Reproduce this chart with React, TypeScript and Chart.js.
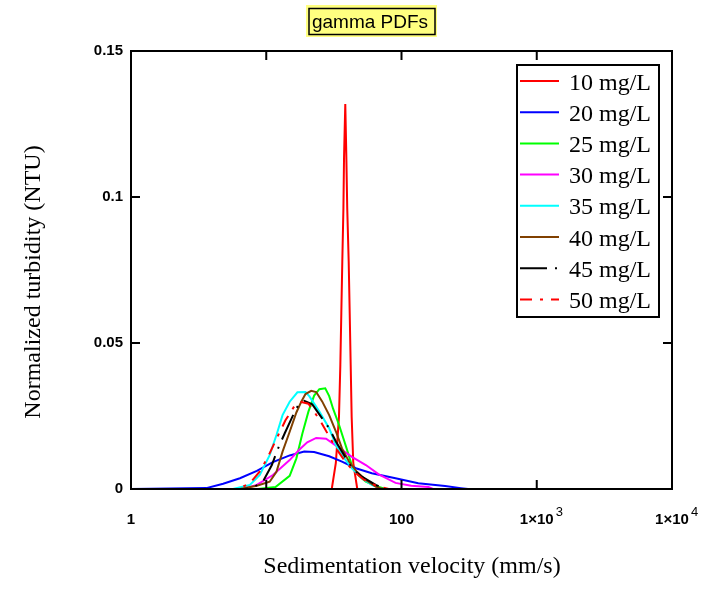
import { useEffect, useRef } from "react";
import { Chart, registerables } from "chart.js";

Chart.register(...registerables);

const seriesLabels = ["10 mg/L", "20 mg/L", "25 mg/L", "30 mg/L", "35 mg/L", "40 mg/L", "45 mg/L", "50 mg/L"];
const seriesColors = ["#ff0000", "#0000ff", "#00ff00", "#ff00ff", "#00ffff", "#804000", "#000000", "#ff0000"];
const seriesDashes: number[][] = [[], [], [], [], [], [], [27, 8, 2, 8], [12, 8, 3, 8]];

const xTickValues = [1, 10, 100, 1000, 10000];
const xTickLabels = ["1", "10", "100", "1×10", "1×10"];
const xTickSups = ["", "", "", "3", "4"];
const yTickValues = [0, 0.05, 0.1, 0.15];
const yTickLabels = ["0", "0.05", "0.1", "0.15"];

const v10 = [1, 30.5, 32.7, 34.5, 35.3, 35.9, 36.5, 37.2, 37.6, 38.4, 39.1, 39.7, 40.7, 41.4, 42.1, 42.8, 44.0, 47.1, 10000];
const y10 = [0, 0, 0.0089, 0.0248, 0.0425, 0.0603, 0.0778, 0.0961, 0.1138, 0.1318, 0.1138, 0.0961, 0.0778, 0.0603, 0.0425, 0.0248, 0.0089, 0, 0];

const v20 = [1, 3.6, 4.8, 6.39, 8.52, 11.2, 14.9, 19.1, 22.6, 29.2, 36.3, 46.0, 60.3, 90.3, 133, 210, 275, 310, 10000];
const y20 = [0, 0.0003, 0.0018, 0.0037, 0.0062, 0.0092, 0.0115, 0.0128, 0.0127, 0.0112, 0.0094, 0.0071, 0.0054, 0.0037, 0.002, 0.001, 0.0003, 0, 0];

const v25 = [1, 8.67, 11.7, 14.9, 16.7, 18.5, 20.5, 22.6, 24.7, 27.3, 29.2, 31.2, 34.5, 38.9, 43.0, 48.4, 54.5, 64.5, 76.4, 10000];
const y25 = [0, 0, 0.0007, 0.0045, 0.0105, 0.019, 0.0265, 0.032, 0.0342, 0.0345, 0.0318, 0.0275, 0.022, 0.0145, 0.008, 0.0045, 0.0025, 0.001, 0, 0];

const v30 = [1, 6.73, 8.52, 11.2, 14.9, 17.6, 20.1, 23.4, 27.7, 32.8, 43.0, 54.5, 67.9, 90.3, 118, 158, 171, 10000];
const y30 = [0, 0, 0.0014, 0.0048, 0.0099, 0.0135, 0.016, 0.0175, 0.0172, 0.0148, 0.011, 0.0082, 0.005, 0.0021, 0.0011, 0.0007, 0, 0];

const v35 = [1, 5.68, 7.57, 8.96, 10.6, 11.9, 13.2, 14.9, 17.0, 19.5, 20.8, 24.7, 29.2, 32.8, 36.3, 43.0, 50.9, 60.3, 71.3, 10000];
const y35 = [0, 0, 0.0014, 0.0048, 0.0116, 0.0185, 0.0253, 0.0299, 0.0331, 0.0332, 0.0318, 0.0265, 0.0208, 0.015, 0.0116, 0.0071, 0.0037, 0.0014, 0, 0];

const v40 = [1, 6.39, 8.52, 10.6, 11.9, 13.2, 14.9, 16.7, 18.2, 19.5, 21.5, 23.4, 25.9, 29.2, 32.8, 36.3, 40.9, 46.8, 54.5, 64.5, 72.6, 10000];
const y40 = [0, 0, 0.0011, 0.0025, 0.0059, 0.0128, 0.0196, 0.0262, 0.03, 0.0325, 0.0336, 0.0332, 0.03, 0.0253, 0.0196, 0.0139, 0.0094, 0.0059, 0.0031, 0.0008, 0, 0];

const v45 = [1, 6.95, 7.96, 9.43, 11.0, 12.1, 13.7, 15.4, 16.7, 17.6, 19.1, 21.9, 25.9, 29.2, 32.8, 38.9, 43.0, 50.9, 64.5, 76.4, 10000];
const y45 = [0, 0, 0.0005, 0.0025, 0.0082, 0.0134, 0.0191, 0.0242, 0.0276, 0.0293, 0.0302, 0.029, 0.0242, 0.0208, 0.0162, 0.0105, 0.0071, 0.0042, 0.0014, 0, 0];

const v50 = [1, 6.18, 7.57, 8.96, 10.3, 11.9, 13.9, 16.2, 18.2, 20.5, 22.6, 25.5, 29.2, 33.4, 38.9, 44.5, 52.7, 64.5, 80.4, 10000];
const y50 = [0, 0, 0.002, 0.006, 0.011, 0.0172, 0.0236, 0.0285, 0.0298, 0.0292, 0.0265, 0.0228, 0.018, 0.0134, 0.009, 0.006, 0.0032, 0.0012, 0, 0];

const seriesX = [v10, v20, v25, v30, v35, v40, v45, v50];
const seriesY = [y10, y20, y25, y30, y35, y40, y45, y50];

const titleText = "gamma PDFs";
const xTitle = "Sedimentation velocity (mm/s)";
const yTitle = "Normalized turbidity (NTU)";

const W = 727;
const H = 593;
const AREA = { left: 131, right: 672, top: 51, bottom: 489 };
const TICK_FONT = "'Liberation Sans', Arial, sans-serif";

const decorPlugin = {
  id: "decor",
  afterDatasetsDraw(chart: any) {
    const ctx = chart.ctx;
    const { left, right, top, bottom } = chart.chartArea;
    const xs = chart.scales.x;
    const ys = chart.scales.y;
    ctx.save();
    ctx.strokeStyle = "#000";
    ctx.lineWidth = 2;
    ctx.setLineDash([]);
    ctx.strokeRect(left, top, right - left, bottom - top);
    const tl = 9;
    ctx.beginPath();
    xTickValues.slice(1, -1).forEach((v) => {
      const px = xs.getPixelForValue(v);
      ctx.moveTo(px, bottom);
      ctx.lineTo(px, bottom - tl);
      ctx.moveTo(px, top);
      ctx.lineTo(px, top + tl);
    });
    yTickValues.slice(1, -1).forEach((v) => {
      const py = ys.getPixelForValue(v);
      ctx.moveTo(left, py);
      ctx.lineTo(left + tl, py);
      ctx.moveTo(right, py);
      ctx.lineTo(right - tl, py);
    });
    ctx.stroke();

    // superscripts of the power-of-ten tick labels
    ctx.fillStyle = "#000";
    ctx.textBaseline = "alphabetic";
    ctx.textAlign = "left";
    xTickValues.forEach((v, i) => {
      if (!xTickSups[i]) return;
      ctx.font = `bold 15px ${TICK_FONT}`;
      const w = ctx.measureText(xTickLabels[i]).width;
      const px = xs.getPixelForValue(v);
      ctx.font = `13px ${TICK_FONT}`;
      ctx.fillText(xTickSups[i], px + w / 2 + 2, bottom + 27);
    });

    // legend
    const lx = 517, ly = 65, lw = 142, lh = 252;
    ctx.fillStyle = "#fff";
    ctx.fillRect(lx, ly, lw, lh);
    ctx.strokeStyle = "#000";
    ctx.lineWidth = 2;
    ctx.strokeRect(lx, ly, lw, lh);
    ctx.font = "24px 'Liberation Serif', 'Times New Roman', serif";
    ctx.textAlign = "left";
    ctx.textBaseline = "alphabetic";
    chart.data.datasets.forEach((ds: any, i: number) => {
      const y = 81 + i * 31.2;
      ctx.strokeStyle = ds.borderColor;
      ctx.lineWidth = 2;
      ctx.setLineDash(ds.borderDash || []);
      ctx.beginPath();
      ctx.moveTo(520, y);
      ctx.lineTo(559, y);
      ctx.stroke();
      ctx.setLineDash([]);
      ctx.fillStyle = "#000";
      ctx.fillText(ds.label, 569, y + 8.5);
    });

    // title box
    ctx.fillStyle = "#ffff80";
    ctx.fillRect(306, 5, 131, 32);
    ctx.strokeStyle = "#000";
    ctx.lineWidth = 1.5;
    ctx.strokeRect(309, 8.5, 126, 26);
    ctx.fillStyle = "#000";
    ctx.font = "19px 'Liberation Sans', Arial, sans-serif";
    ctx.textAlign = "center";
    ctx.fillText(titleText, 370, 28);

    // axis titles
    ctx.font = "24px 'Liberation Serif', 'Times New Roman', serif";
    ctx.textAlign = "center";
    ctx.textBaseline = "middle";
    ctx.fillText(xTitle, 412, 567);
    ctx.save();
    ctx.translate(34, 282);
    ctx.rotate(-Math.PI / 2);
    ctx.fillText(yTitle, 0, 0);
    ctx.restore();
    ctx.restore();
  },
};

export default function App() {
  const ref = useRef<HTMLCanvasElement>(null);
  useEffect(() => {
    if (!ref.current) return;
    const datasets = seriesLabels.map((label, i) => ({
      label,
      data: seriesX[i].map((x, j) => ({ x, y: seriesY[i][j] })),
      borderColor: seriesColors[i],
      backgroundColor: seriesColors[i],
      borderDash: seriesDashes[i],
      borderWidth: 2,
      showLine: true,
      pointRadius: 0,
      pointHoverRadius: 0,
      tension: 0,
      fill: false,
      order: seriesLabels.length - i,
    }));
    const chart = new Chart(ref.current, {
      type: "scatter",
      data: { datasets },
      options: {
        responsive: false,
        animation: false,
        devicePixelRatio: 1,
        layout: { padding: { left: 0, top: AREA.top, right: W - AREA.right, bottom: 0 } },
        plugins: { legend: { display: false }, title: { display: false }, tooltip: { enabled: false } },
        events: [],
        scales: {
          x: {
            type: "logarithmic",
            min: 1,
            max: 10000,
            grid: { display: false, drawTicks: false },
            border: { display: false },
            afterBuildTicks: (scale: any) => {
              scale.ticks = xTickValues.map((value) => ({ value }));
            },
            afterFit: (scale: any) => {
              scale.height = H - AREA.bottom;
            },
            ticks: {
              autoSkip: false,
              maxRotation: 0,
              padding: 22,
              color: "#000",
              font: { family: TICK_FONT, size: 15, weight: "bold" },
              callback: (_v: any, i: number) => xTickLabels[i],
            },
          },
          y: {
            type: "linear",
            min: 0,
            max: 0.15,
            grid: { display: false, drawTicks: false },
            border: { display: false },
            afterBuildTicks: (scale: any) => {
              scale.ticks = yTickValues.map((value) => ({ value }));
            },
            afterFit: (scale: any) => {
              scale.width = AREA.left;
            },
            ticks: {
              padding: 8,
              color: "#000",
              font: { family: TICK_FONT, size: 15, weight: "bold" },
              callback: (_v: any, i: number) => yTickLabels[i],
            },
          },
        },
      },
      plugins: [decorPlugin],
    } as any);
    return () => chart.destroy();
  }, []);
  return (
    <div style={{ position: "absolute", left: 0, top: 0, width: W, height: H, background: "#fff" }}>
      <canvas ref={ref} width={W} height={H} style={{ width: W, height: H, display: "block" }} />
    </div>
  );
}
